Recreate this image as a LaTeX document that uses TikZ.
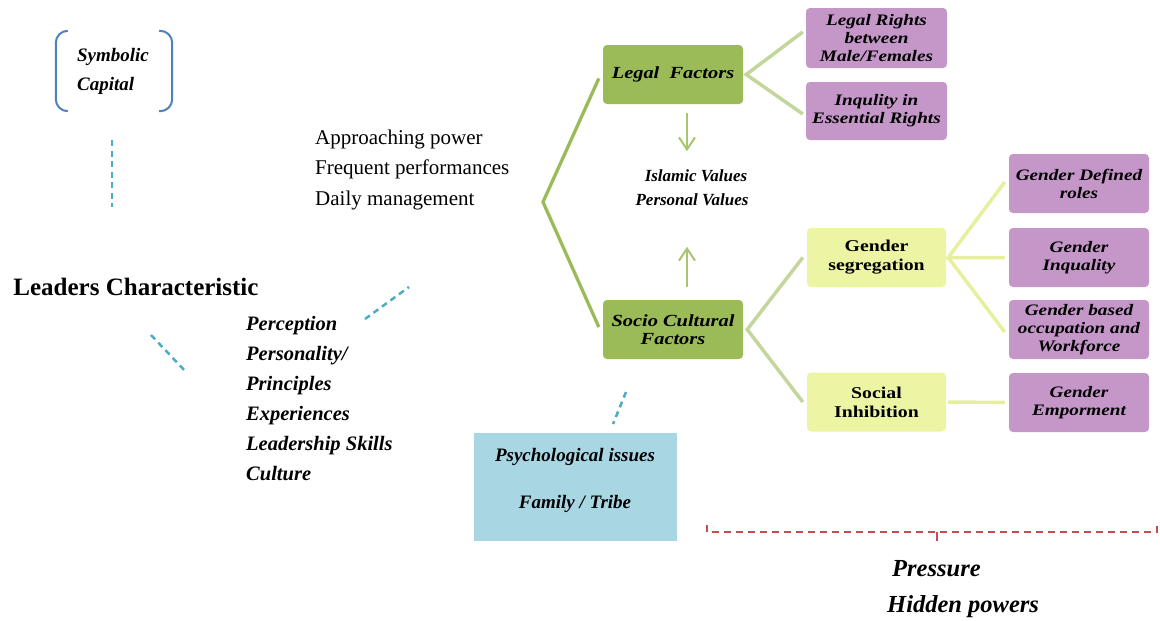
\documentclass[tikz,border=0pt]{standalone}
\usepackage{fontspec}
\setmainfont{Liberation Serif}
\newfontfamily\boxfont[FakeStretch=1.2]{Liberation Serif}
\usetikzlibrary{arrows.meta}

\definecolor{leafgreen}{HTML}{9BBB59}
\definecolor{palegreen}{HTML}{C3D69B}
\definecolor{paleyellow}{HTML}{EDF5A4}
\definecolor{yellowline}{HTML}{E6F09C}
\definecolor{lilac}{HTML}{C597C9}
\definecolor{skyblue}{HTML}{A9D6E3}
\definecolor{dashcyan}{HTML}{4BACC6}
\definecolor{dashred}{HTML}{C0504D}
\definecolor{bracketblue}{HTML}{4F81BD}

\begin{document}
\begin{tikzpicture}[x=1pt,y=-1pt,
  box/.style={rounded corners=4pt, inner sep=0pt, align=center,
    minimum width=140pt, minimum height=59pt},
  greenbox/.style={box, fill=leafgreen,
    font=\boxfont\bfseries\itshape\fontsize{17}{18.5}\selectfont},
  purplebox/.style={box, fill=lilac,
    font=\boxfont\bfseries\itshape\fontsize{16}{18}\selectfont},
  yellowbox/.style={box, fill=paleyellow, minimum width=139pt,
    font=\boxfont\bfseries\fontsize{16.5}{19}\selectfont},
  trunk/.style={draw=leafgreen, line width=3.3pt},
  branch/.style={draw=palegreen, line width=3.5pt},
  twig/.style={draw=yellowline, line width=3.5pt},
  valarrow/.style={draw=leafgreen!85!white, line width=2pt,
    -{Straight Barb[length=12pt,width=16pt,line width=2pt]}},
  cyandash/.style={draw=dashcyan, line width=2.5pt, dash pattern=on 6pt off 4.5pt},
  reddash/.style={draw=dashred, line width=1.8pt, dash pattern=on 7pt off 5pt},
  bracket/.style={draw=bracketblue, line width=2pt, rounded corners=12pt},
  bitext/.style={inner sep=0pt, align=left, font=\bfseries\itshape\fontsize{20.5}{30}\selectfont}
]
\useasboundingbox (0,0) rectangle (1160,621);
\fill[white] (0,0) rectangle (1160,621);

% ---------- left column ----------
\node[minimum width=116pt, minimum height=80pt, inner sep=0pt] (sym) at (114,71) {};
\node[inner sep=0pt, align=left, font=\bfseries\itshape\fontsize{19}{29}\selectfont]
  (symtxt) at (113,71.5) {Symbolic\\Capital};
\draw[bracket] ([xshift=12pt]sym.north west) -- (sym.north west)
  -- (sym.south west) -- ([xshift=12pt]sym.south west);
\draw[bracket] ([xshift=-13pt]sym.north east) -- (sym.north east)
  -- (sym.south east) -- ([xshift=-13pt]sym.south east);

\coordinate (d1a) at (112,140);
\coordinate (d1b) at (112,207);
\draw[cyandash] (d1a) -- (d1b);

\node[inner sep=0pt, font=\bfseries\fontsize{25}{28}\selectfont]
  (leaders) at (136,287) {Leaders Characteristic};

\coordinate (d2a) at (151,335);
\coordinate (d2b) at (187,373);
\draw[cyandash] (d2a) -- (d2b);
\coordinate (d3a) at (365,319);
\coordinate (d3b) at (409,287);
\draw[cyandash] (d3a) -- (d3b);

\node[bitext, anchor=west] (traits) at (246,398.5)
  {Perception\\Personality/\\Principles\\Experiences\\Leadership Skills\\Culture};

\node[inner sep=0pt, align=left, anchor=west, font=\fontsize{21}{30.5}\selectfont]
  (power) at (315,169.5) {Approaching power\\Frequent performances\\Daily management};

% ---------- factor boxes ----------
\node[greenbox] (legal) at (673,74.5) {Legal~~Factors};
\node[greenbox] (socio) at (673,329.5) {Socio Cultural\\Factors};

\coordinate (apex) at (543,202);
\draw[trunk] ([xshift=-4pt,yshift=-4pt]legal.west) -- (apex)
  -- ([xshift=-4pt,yshift=2.5pt]socio.west);

\node[inner sep=0pt, align=center, font=\bfseries\itshape\fontsize{17}{24}\selectfont]
  (values) at (692,188) {\hspace*{8pt}Islamic Values\\Personal Values};
\draw[valarrow] ([xshift=14pt,yshift=-9pt]legal.south) -- ++(0,38);
\draw[valarrow] ([xshift=14pt,yshift=13pt]socio.north) -- ++(0,-40);

% legal branch
\node[purplebox, minimum width=141pt, minimum height=60pt] (rights) at (876.5,38)
  {Legal Rights\\between\\Male/Females};
\node[purplebox, minimum width=141pt, minimum height=58pt] (inq) at (876.5,111)
  {Inqulity in\\Essential Rights};
\draw[branch] ([xshift=-3pt,yshift=6pt]rights.west) -- ([xshift=3pt]legal.east)
  -- ([xshift=-3pt,yshift=-3pt]inq.west);

% socio-cultural branch
\node[yellowbox] (seg) at (876.5,257.5) {Gender\\segregation};
\node[yellowbox] (inh) at (876.5,402) {Social\\Inhibition};
\draw[branch] ([xshift=-4pt]seg.west) -- ([xshift=4pt]socio.east)
  -- ([xshift=-4pt]inh.west);

\node[purplebox] (defined) at (1079,183.5) {Gender Defined\\roles};
\node[purplebox] (ineq) at (1079,257.5) {Gender\\Inquality};
\node[purplebox] (occup) at (1079,329.5) {Gender based\\occupation and\\Workforce};
\node[purplebox] (empow) at (1079,402.5) {Gender\\Emporment};

\draw[twig] ([xshift=-4pt,yshift=1.5pt]defined.west) -- ([xshift=2pt]seg.east)
  -- ([xshift=-4pt]ineq.west);
\draw[twig] ([xshift=2pt]seg.east) -- ([xshift=-4pt,yshift=-2.5pt]occup.west);
\draw[twig] ([xshift=2pt]inh.east) -- ([xshift=-4pt]empow.west);

% ---------- psychological issues ----------
\coordinate (d4a) at (626,392);
\coordinate (d4b) at (613,424);
\draw[cyandash] (d4a) -- (d4b);
\node[fill=skyblue, inner sep=0pt, minimum width=203pt, minimum height=108pt]
  (psy) at (575,487) {};
\node[inner sep=0pt, align=center, font=\bfseries\itshape\fontsize{19}{20}\selectfont]
  (psytxt) at ([yshift=7pt]psy.center) {Psychological issues\\[27pt]Family / Tribe};

% ---------- pressure bracket ----------
\coordinate (pl) at (707,525);
\coordinate (pr) at (1157,525);
\coordinate (pm) at (937,532);
\draw[reddash] (pl) -- (707,532) -- (1157,532) -- (pr);
\draw[dashred, line width=1.8pt] (pm) -- ++(0,9);
\node[inner sep=0pt, align=left, anchor=west,
  font=\bfseries\itshape\fontsize{24.5}{36}\selectfont]
  (pressure) at (887,589) {\hspace*{5pt}Pressure\\Hidden powers};
\end{tikzpicture}
\end{document}
